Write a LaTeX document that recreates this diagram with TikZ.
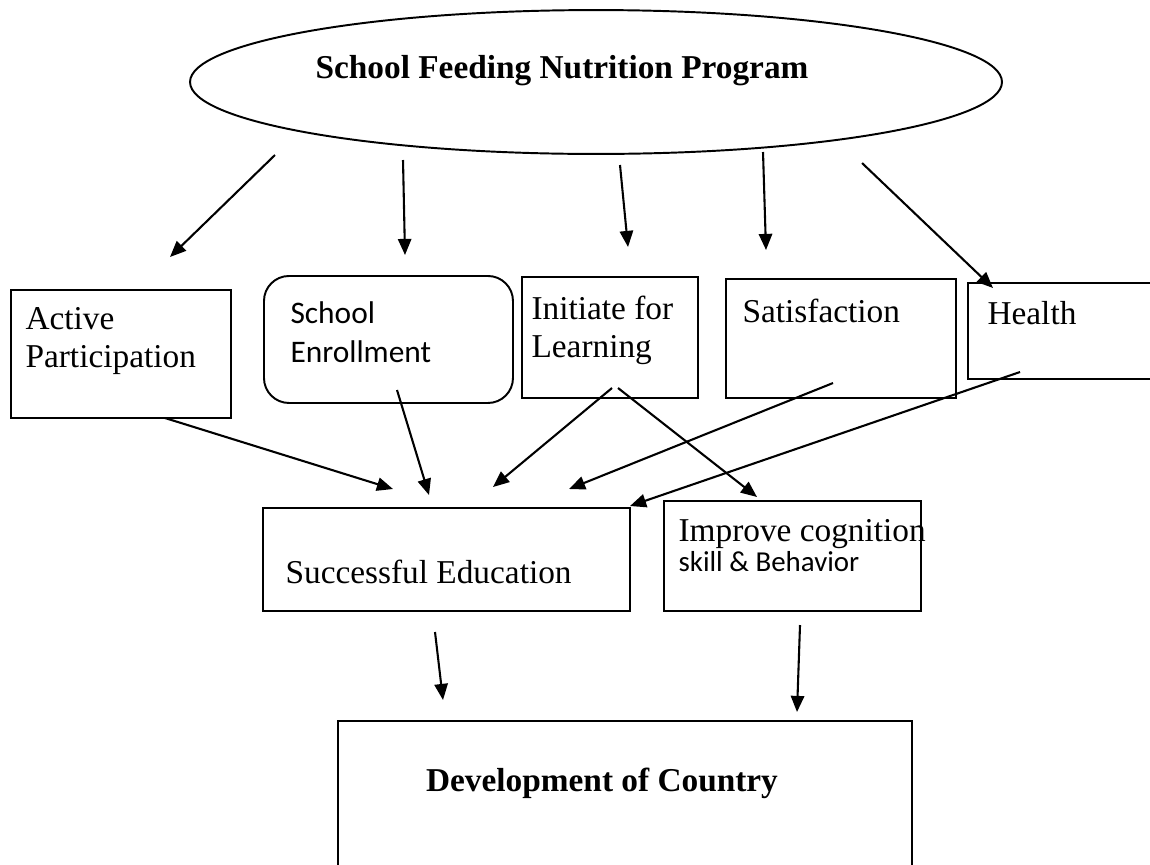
\documentclass[tikz,border=0pt]{standalone}
\usepackage{fontspec}
\setmainfont{Liberation Serif}
\newfontfamily\calfont{Carlito}
\usetikzlibrary{shapes.geometric,arrows.meta}
\begin{document}
\begin{tikzpicture}[x=0.36pt,y=-0.36pt,
  box/.style={draw,line width=0.7pt,inner sep=0pt,anchor=north west},
  lbl/.style={inner sep=0pt,anchor=base west,font=\fontsize{12}{14}\selectfont},
  clbl/.style={inner sep=0pt,anchor=base west,font=\calfont\fontsize{11.3}{14}\selectfont},
  slbl/.style={inner sep=0pt,anchor=base west,font=\calfont\fontsize{10.4}{13}\selectfont},
  blbl/.style={inner sep=0pt,anchor=base,font=\bfseries\fontsize{12}{14}\selectfont},
  arr/.style={line width=0.75pt,-{Triangle[length=5.8pt,width=4.8pt]}}]
\clip (0,0) rectangle (1150,864);
\fill[white] (0,0) rectangle (1150,864);
% ellipse
\node[draw,line width=0.7pt,ellipse,inner sep=0pt,minimum width=292.3pt,minimum height=51.8pt] (prog) at (596,82) {};
\node[blbl] (progt) at (562,78) {School Feeding Nutrition Program};
% boxes
\node[box,minimum width=79.2pt,minimum height=46.08pt] (act) at (10,289) {};
\node[box,rounded corners=9pt,minimum width=89.64pt,minimum height=45.72pt] (enr) at (263,275) {};
\node[box,minimum width=63.36pt,minimum height=43.56pt] (ini) at (521,276) {};
\node[box,minimum width=82.8pt,minimum height=42.84pt] (sat) at (725,278) {};
\node[box,minimum width=69.48pt,minimum height=34.56pt] (hea) at (967,282) {};
\node[box,minimum width=132.12pt,minimum height=37.08pt] (suc) at (262,507) {};
\node[box,minimum width=92.52pt,minimum height=39.6pt] (imp) at (663,500) {};
\node[box,minimum width=206.64pt,minimum height=56pt] (dev) at (337,720) {};
% labels
\node[lbl] (act1) at (25,329) {Active};
\node[lbl] (act2) at (25,367) {Participation};
\node[clbl] (enr1) at (290,323) {School};
\node[clbl] (enr2) at (290,362) {Enrollment};
\node[lbl] (ini1) at (531,319) {Initiate for};
\node[lbl] (ini2) at (531,357) {Learning};
\node[lbl] (sat1) at (742,322) {Satisfaction};
\node[lbl] (hea1) at (987,324) {Health};
\node[lbl] (suc1) at (285,583) {Successful Education};
\node[lbl] (imp1) at (678,541) {Improve cognition};
\node[slbl] (imp2) at (678,571) {skill \& Behavior};
\node[blbl] (dev1) at (602,791) {Development of Country};
% connector end points
\coordinate (e1) at (275,155);  \coordinate (t1) at (170,257);
\coordinate (e2) at (403,160);  \coordinate (t2) at (405,255);
\coordinate (e3) at (620,165);  \coordinate (t3) at (628,247);
\coordinate (e4) at (763,152);  \coordinate (t4) at (766,250);
\coordinate (e5) at (862,163);  \coordinate (t5) at (993,288);
\coordinate (s6) at (165,418);  \coordinate (t6) at (393,489);
\coordinate (s7) at (397,390);  \coordinate (t7) at (429,495);
\coordinate (s8) at (612,388);  \coordinate (t8) at (493,487);
\coordinate (s9) at (833,383);  \coordinate (t9) at (569,489);
\coordinate (s10) at (1020,372); \coordinate (t10) at (630,506);
\coordinate (s11) at (618,388); \coordinate (t11) at (757,497);
\coordinate (s12) at (435,632); \coordinate (t12) at (443,700);
\coordinate (s13) at (800,625); \coordinate (t13) at (797,712);
% connectors
\draw[arr] (e1) -- (t1);
\draw[arr] (e2) -- (t2);
\draw[arr] (e3) -- (t3);
\draw[arr] (e4) -- (t4);
\draw[arr] (e5) -- (t5);
\draw[arr] (s6) -- (t6);
\draw[arr] (s7) -- (t7);
\draw[arr] (s8) -- (t8);
\draw[arr] (s9) -- (t9);
\draw[arr] (s10) -- (t10);
\draw[arr] (s11) -- (t11);
\draw[arr] (s12) -- (t12);
\draw[arr] (s13) -- (t13);
\end{tikzpicture}
\end{document}
